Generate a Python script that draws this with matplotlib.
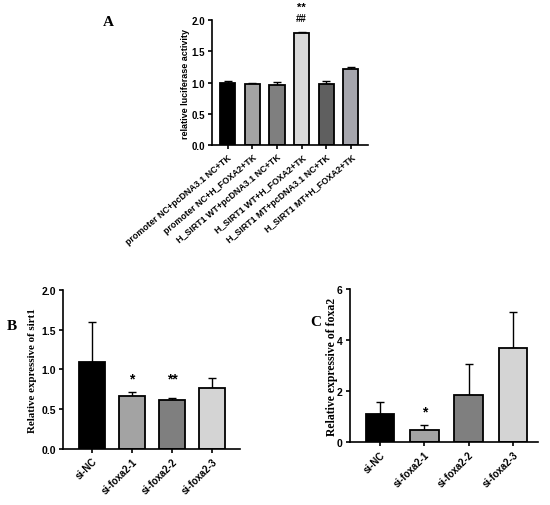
import matplotlib
matplotlib.use("Agg")
import matplotlib.pyplot as plt
import numpy as np

# --- datos ---
grupos_a = ["promoter NC+pcDNA3.1 NC+TK", "promoter NC+H_FOXA2+TK",
            "H_SIRT1 WT+pcDNA3.1 NC+TK", "H_SIRT1 WT+H_FOXA2+TK",
            "H_SIRT1 MT+pcDNA3.1 NC+TK", "H_SIRT1 MT+H_FOXA2+TK"]
valores_a = [1.00, 0.98, 0.97, 1.80, 0.98, 1.22]
errores_a = [0.03, 0.01, 0.04, 0.02, 0.05, 0.03]
colores_a = ["#000000", "#a3a3a3", "#7f7f7f", "#d9d9d9", "#5f5f5f", "#a6a6ad"]

grupos_si = ["si-NC", "si-foxa2-1", "si-foxa2-2", "si-foxa2-3"]
valores_b = [1.09, 0.66, 0.61, 0.77]
errores_b = [0.51, 0.05, 0.03, 0.12]
marcas_b = ["", "*", "**", ""]

valores_c = [1.08, 0.47, 1.85, 3.70]
errores_c = [0.50, 0.20, 1.20, 1.40]
marcas_c = ["", "*", "", ""]
colores_si = ["#000000", "#a3a3a3", "#7f7f7f", "#d4d4d4"]

SANS = "Liberation Sans"
SERIF = "Liberation Serif"

fig = plt.figure(figsize=(5.5, 5.06), dpi=100)


def estilo(ax, tam):
    for lado in ["top", "right"]:
        ax.spines[lado].set_visible(False)
    for lado in ["left", "bottom"]:
        ax.spines[lado].set_linewidth(1.2)
    ax.tick_params(width=1.2, length=3, pad=2, labelsize=tam)
    for t in ax.get_yticklabels() + ax.get_xticklabels():
        t.set_fontfamily(SANS)
        t.set_fontweight("bold")


def barras(ax, valores, errores, colores, ancho):
    x = np.arange(len(valores))
    ax.bar(x, valores, width=ancho, color=colores, edgecolor="black",
           linewidth=1.3, zorder=2)
    ax.errorbar(x, valores, yerr=[np.zeros(len(valores)), errores], fmt="none",
                ecolor="black", elinewidth=1.0, capsize=3, capthick=1.0, zorder=1)
    return x


# --- panel A ---
ax_a = fig.add_axes([0.385, 0.711, 0.284, 0.247])
x = barras(ax_a, valores_a, errores_a, colores_a, 0.62)
ax_a.set_xlim(-0.65, 5.7)
ax_a.set_ylim(0, 2.0)
ax_a.set_yticks([0, 0.5, 1.0, 1.5, 2.0])
ax_a.set_xticks(x)
ax_a.set_xticklabels(grupos_a, rotation=40, ha="right", rotation_mode="anchor")
ax_a.set_ylabel("relative luciferase activity", fontsize=6.5, fontfamily=SANS,
                fontweight="bold")
ax_a.yaxis.set_label_coords(-0.14, 0.5)
estilo(ax_a, 7)
for t in ax_a.get_xticklabels():
    t.set_fontsize(6.4)
ax_a.text(3, 2.21, "**", ha="center", va="center", fontsize=8, fontweight="bold",
          fontfamily=SANS, clip_on=False)
ax_a.text(3, 2.03, "##", ha="center", va="center", fontsize=7, fontweight="bold",
          fontfamily=SANS, clip_on=False)
fig.text(108 / 550, 1 - 22 / 506, "A", fontsize=11, fontweight="bold",
         fontfamily=SERIF, ha="center", va="center")

# --- panel B ---
ax_b = fig.add_axes([0.115, 0.111, 0.321, 0.314])
x = barras(ax_b, valores_b, errores_b, colores_si, 0.65)
ax_b.set_xlim(-0.72, 3.7)
ax_b.set_ylim(0, 2.0)
ax_b.set_yticks([0, 0.5, 1.0, 1.5, 2.0])
ax_b.set_xticks(x)
ax_b.set_xticklabels(grupos_si, rotation=45, ha="right", rotation_mode="anchor")
ax_b.set_ylabel("Relative expressive of sirt1", fontsize=7.8, fontfamily=SERIF,
                fontweight="bold")
ax_b.yaxis.set_label_coords(-0.15, 0.5)
estilo(ax_b, 7.5)
for t in ax_b.get_xticklabels():
    t.set_fontsize(7)
for i, m in enumerate(marcas_b):
    if m:
        ax_b.text(i, 0.89, m, ha="center", va="center", fontsize=10,
                  fontweight="bold", fontfamily=SANS)
fig.text(12 / 550, 1 - 327 / 506, "B", fontsize=11, fontweight="bold",
         fontfamily=SERIF, ha="center", va="center")

# --- panel C ---
ax_c = fig.add_axes([0.636, 0.1245, 0.342, 0.3025])
x = barras(ax_c, valores_c, errores_c, colores_si, 0.65)
ax_c.set_xlim(-0.68, 3.56)
ax_c.set_ylim(0, 6)
ax_c.set_yticks([0, 2, 4, 6])
ax_c.set_xticks(x)
ax_c.set_xticklabels(grupos_si, rotation=45, ha="right", rotation_mode="anchor")
ax_c.set_ylabel("Relative expressive of foxa2", fontsize=8.5, fontfamily=SERIF,
                fontweight="bold")
ax_c.yaxis.set_label_coords(-0.064, 0.5)
estilo(ax_c, 7.5)
for t in ax_c.get_xticklabels():
    t.set_fontsize(7)
for i, m in enumerate(marcas_c):
    if m:
        ax_c.text(i, 1.18, m, ha="center", va="center", fontsize=10,
                  fontweight="bold", fontfamily=SANS)
fig.text(316 / 550, 1 - 322 / 506, "C", fontsize=11, fontweight="bold",
         fontfamily=SERIF, ha="center", va="center")

fig.savefig("out.png", dpi=100, facecolor="white")
